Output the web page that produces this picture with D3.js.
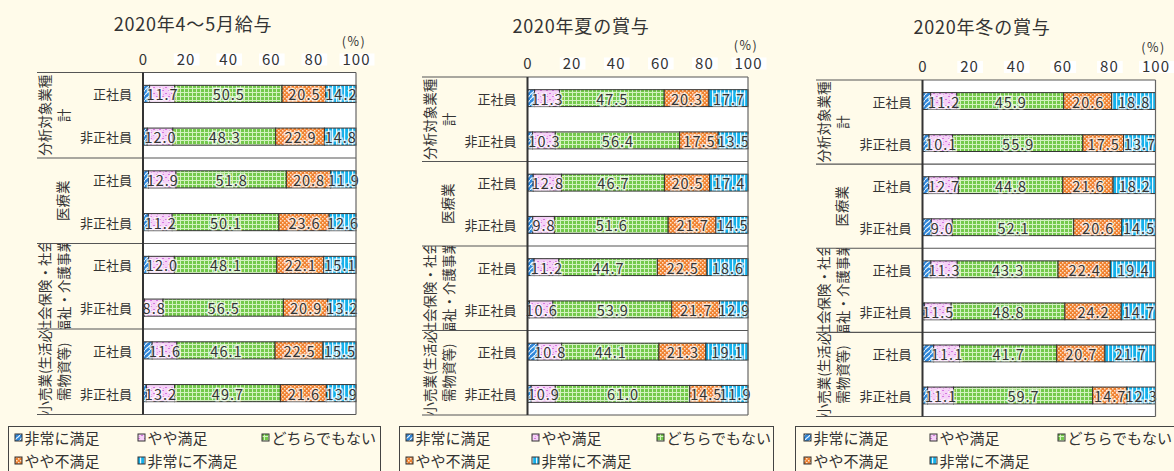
<!DOCTYPE html>
<html><head><meta charset="utf-8">
<script src="https://cdn.jsdelivr.net/npm/d3@7"></script>
<style>
body{margin:0;background:#fffbea}
svg{display:block}
text{font-family:"Noto Sans CJK JP","Noto Sans",sans-serif;fill:#333}
</style>
</head><body>
<svg id="chart" width="1174" height="471"></svg>
<script>
// ---------- data ----------
const panelTitles = ["2020年4～5月給与", "2020年夏の賞与", "2020年冬の賞与"];
const industries = ["分析対象業種計", "医療業", "社会保険・社会福祉・介護事業", "小売業(生活必需物資等)"];
const industryLines = [["分析対象業種", "計"], ["医療業"], ["社会保険・社会", "福祉・介護事業"], ["小売業(生活必", "需物資等)"]];
const employment = ["正社員", "非正社員"];
const seriesNames = ["非常に満足", "やや満足", "どちらでもない", "やや不満足", "非常に不満足"];
const tickValues = [0, 20, 40, 60, 80, 100];
const tickLabels = ["0", "20", "40", "60", "80", "100"];
const unitLabel = "(%)";

// rows: [industry x employment], values in series order
const salaryAprMay = [
  [3.1, 11.7, 50.5, 20.5, 14.2],
  [2.0, 12.0, 48.3, 22.9, 14.8],
  [2.6, 12.9, 51.8, 20.8, 11.9],
  [2.5, 11.2, 50.1, 23.6, 12.6],
  [2.7, 12.0, 48.1, 22.1, 15.1],
  [0.6, 8.8, 56.5, 20.9, 13.2],
  [4.3, 11.6, 46.1, 22.5, 15.5],
  [1.6, 13.2, 49.7, 21.6, 13.9]
];
const bonusSummer = [
  [3.2, 11.3, 47.5, 20.3, 17.7],
  [2.3, 10.3, 56.4, 17.5, 13.5],
  [2.6, 12.8, 46.7, 20.5, 17.4],
  [2.4, 9.8, 51.6, 21.7, 14.5],
  [3.0, 11.2, 44.7, 22.5, 18.6],
  [0.9, 10.6, 53.9, 21.7, 12.9],
  [4.7, 10.8, 44.1, 21.3, 19.1],
  [1.7, 10.9, 61.0, 14.5, 11.9]
];
const bonusWinter = [
  [3.5, 11.2, 45.9, 20.6, 18.8],
  [2.8, 10.1, 55.9, 17.5, 13.7],
  [2.7, 12.7, 44.8, 21.6, 18.2],
  [3.8, 9.0, 52.1, 20.6, 14.5],
  [3.6, 11.3, 43.3, 22.4, 19.4],
  [0.8, 11.5, 48.8, 24.2, 14.7],
  [4.8, 11.1, 41.7, 20.7, 21.7],
  [2.2, 11.1, 59.7, 14.7, 12.3]
];
const panelData = [salaryAprMay, bonusSummer, bonusWinter];

// ---------- layout ----------
const layouts = [
  {tx:193, ty:23, plotL:143, plotR:356, top:72.5, bottom:414.5, labelL:37, tickY:59.5, pctY:40, legL:8.5, legR:380.5, legCols:[15,138,262]},
  {tx:581, ty:25, plotL:527.5, plotR:748, top:77, bottom:415, labelL:422, tickY:63.5, pctY:44, legL:399.5, legR:773.5, legCols:[406,532,657]},
  {tx:982, ty:26, plotL:922.5, plotR:1155.5, top:80, bottom:416.5, labelL:816, tickY:67, pctY:46, legL:795.5, legR:1190, legCols:[804,930,1058]}
];

const svg = d3.select("#chart");
svg.append("rect").attr("width",1174).attr("height",471).attr("fill","#fffbea");

// ---------- patterns ----------
const defs = svg.append("defs");
function pat(id, w, h){ return defs.append("pattern").attr("id",id).attr("patternUnits","userSpaceOnUse").attr("width",w).attr("height",h); }
// 非常に満足: blue, white diagonal waves
let p = pat("p0",5,5);
p.append("rect").attr("width",5).attr("height",5).attr("fill","#2f86d8");
p.append("path").attr("d","M0,5 Q1.5,3 2.5,2.5 T5,0").attr("stroke","#e8f4ff").attr("stroke-width",1.1).attr("fill","none");
// やや満足: light pink with magenta specks
p = pat("p1",6,6);
p.append("rect").attr("width",6).attr("height",6).attr("fill","#f5d2f7");
p.append("rect").attr("x",0).attr("y",0).attr("width",2).attr("height",1).attr("fill","#d677e0");
p.append("rect").attr("x",3).attr("y",3).attr("width",2).attr("height",1).attr("fill","#d677e0");
p.append("rect").attr("x",1).attr("y",4).attr("width",1).attr("height",1).attr("fill","#e4a2ea");
// どちらでもない: green grid
p = pat("p2",4,4);
p.append("rect").attr("width",4).attr("height",4).attr("fill","#d2f2bf");
p.append("rect").attr("x",1).attr("y",1).attr("width",3).attr("height",3).attr("fill","#74c94c");
// やや不満足: orange with white dots
p = pat("p3",4,4);
p.append("rect").attr("width",4).attr("height",4).attr("fill","#f0802e");
p.append("rect").attr("x",0).attr("y",0).attr("width",1.5).attr("height",1.5).attr("fill","#fde2c8");
p.append("rect").attr("x",2).attr("y",2).attr("width",1.5).attr("height",1.5).attr("fill","#fde2c8");
// 非常に不満足: cyan with white vertical stripes
p = pat("p4",4,4);
p.append("rect").attr("width",4).attr("height",4).attr("fill","#14b0ea");
p.append("rect").attr("x",0).attr("y",0).attr("width",1.2).attr("height",4).attr("fill","#e4f7ff");

const keys = seriesNames.map((d,i)=>"s"+i);

function drawPanel(ci){
  const L = layouts[ci];
  const data = panelData[ci].map((v,i)=>{ const o={row:i}; v.forEach((x,k)=>o["s"+k]=x); return o; });
  const g = svg.append("g");
  const x = d3.scaleLinear().domain([0,100]).range([L.plotL, L.plotR]);
  const rowIds = d3.range(industries.length*employment.length);
  const y = d3.scaleBand().domain(rowIds).range([L.top, L.bottom]).paddingInner(0.6).paddingOuter(0.3);
  const gy = d3.scaleBand().domain(d3.range(industries.length)).range([L.top, L.bottom]);

  // title
  g.append("text").attr("x",L.tx).attr("y",L.ty).attr("text-anchor","middle").attr("dominant-baseline","central")
    .attr("font-size",18).attr("letter-spacing","0.8px").text(panelTitles[ci]);
  // unit
  g.append("text").attr("x",L.plotR-2).attr("y",L.pctY).attr("text-anchor","middle").attr("dominant-baseline","central")
    .attr("font-size",12.5).attr("letter-spacing","1.5px").text(unitLabel);

  // axis
  const ax = g.append("g").attr("transform",`translate(0,${L.tickY})`)
    .call(d3.axisTop(x).tickValues(tickValues).tickFormat((d,i)=>tickLabels[i]).tickSize(0).tickPadding(0));
  ax.select(".domain").remove();
  ax.selectAll("text").attr("y",0).attr("dy","0.35em").attr("font-size",15).attr("letter-spacing","1px")
    .attr("fill","#333").style("font-family",'"Noto Sans CJK JP","Noto Sans",sans-serif');
  ax.selectAll(".tick").each(function(d){
    if(d===0) return;
    const t = d3.select(this).select("text");
    const b = t.node().getBBox();
    d3.select(this).insert("rect","text").attr("x",b.x-3).attr("y",-6).attr("width",b.width+7).attr("height",12).attr("fill","#ffffff");
  });

  // plot background
  g.append("rect").attr("x",L.plotL).attr("y",L.top).attr("width",L.plotR-L.plotL).attr("height",L.bottom-L.top).attr("fill","#ffffff");

  // group labels (rotated, clipped to cell)
  industries.forEach((ind,gi)=>{
    const cid = `clip${ci}_${gi}`;
    defs.append("clipPath").attr("id",cid).append("rect")
      .attr("x",L.labelL).attr("y",gy(gi)).attr("width",L.plotL-L.labelL).attr("height",gy.bandwidth());
    const cy = gy(gi)+gy.bandwidth()/2;
    const lines = industryLines[gi];
    const gg = g.append("g").attr("clip-path",`url(#${cid})`);
    lines.forEach((ln,j)=>{
      const cx = lines.length===1 ? L.labelL+25 : L.labelL+7+j*19;
      gg.append("text").attr("transform",`translate(${cx},${cy}) rotate(-90)`).attr("text-anchor","middle")
        .attr("dominant-baseline","central").attr("font-size",13.5).text(ln);
    });
  });

  // employment labels
  g.selectAll(".emp").data(rowIds).join("text")
    .attr("x",L.plotL-11).attr("y",d=>y(d)+y.bandwidth()/2).attr("text-anchor","end").attr("dominant-baseline","central")
    .attr("font-size",13).text(d=>employment[d%2]);

  // group separator lines
  const bounds = d3.range(industries.length+1).map(i=> i<industries.length ? gy(i) : L.bottom);
  g.selectAll(".sep").data(bounds).join("line")
    .attr("x1",L.labelL).attr("x2",L.plotR).attr("y1",d=>d).attr("y2",d=>d)
    .attr("stroke","#555").attr("stroke-width",1.2);

  // bars
  const stacked = d3.stack().keys(keys)(data);
  stacked.forEach((layer,k)=>{
    g.append("g").selectAll("rect").data(layer).join("rect")
      .attr("x",d=>x(d[0])).attr("y",d=>y(d.data.row)).attr("width",d=>x(d[1])-x(d[0])).attr("height",y.bandwidth())
      .attr("fill",`url(#p${k})`).attr("stroke","#333").attr("stroke-width",1);
  });
  // value labels
  stacked.forEach((layer,k)=>{
    if(k===0) return;
    g.append("g").selectAll("text").data(layer).join("text")
      .attr("x",d=>(x(d[0])+x(d[1]))/2+0.5).attr("y",d=>y(d.data.row)+y.bandwidth()/2)
      .attr("text-anchor","middle").attr("dominant-baseline","central")
      .attr("font-size",14.5).attr("letter-spacing","1px")
      .attr("stroke","rgba(255,255,255,0.7)").attr("stroke-width",3).attr("paint-order","stroke")
      .text(d=>(d[1]-d[0]).toFixed(1));
  });

  // plot borders
  g.append("line").attr("x1",L.plotR).attr("x2",L.plotR).attr("y1",L.top).attr("y2",L.bottom).attr("stroke","#666").attr("stroke-width",1.2);
  g.append("line").attr("x1",L.plotL).attr("x2",L.plotL).attr("y1",L.top).attr("y2",L.bottom).attr("stroke","#333").attr("stroke-width",2);

  // legend
  const lg = g.append("g");
  lg.append("rect").attr("x",L.legL).attr("y",426.5).attr("width",L.legR-L.legL).attr("height",60)
    .attr("fill","#fffbea").attr("stroke","#444").attr("stroke-width",1);
  const pos = [[0,0],[1,0],[2,0],[0,1],[1,1]];
  seriesNames.forEach((nm,k)=>{
    const lx = L.legCols[pos[k][0]], ly = 437.5 + pos[k][1]*23;
    lg.append("rect").attr("x",lx).attr("y",ly-3.5).attr("width",7).attr("height",7)
      .attr("fill",`url(#p${k})`).attr("stroke","#333").attr("stroke-width",1);
    lg.append("text").attr("x",lx+9.5).attr("y",ly).attr("dominant-baseline","central")
      .attr("font-size",15).text(nm);
  });
}

[0,1,2].forEach(drawPanel);
</script>
</body></html>
